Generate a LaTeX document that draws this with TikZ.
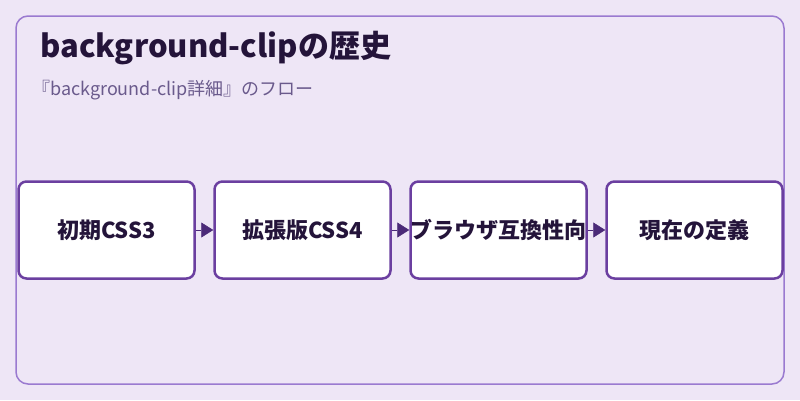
\documentclass[tikz,border=0pt]{standalone}
\usepackage{fontspec}
\setmainfont{Noto Sans CJK JP}
\usetikzlibrary{positioning,arrows.meta}
\definecolor{bgc}{HTML}{EEE6F6}
\definecolor{framec}{HTML}{9A7AD0}
\definecolor{boxc}{HTML}{6B3FA0}
\definecolor{arrc}{HTML}{4B2A78}
\definecolor{textc}{HTML}{24143A}
\definecolor{subc}{HTML}{6A5A8C}
\begin{document}
\begin{tikzpicture}[
    x=1pt, y=-1pt,
    stage/.style={draw=boxc, line width=2.5pt, rounded corners=8pt, fill=white, minimum width=176pt, minimum height=97pt, inner sep=0pt, font=\fontsize{22}{24}\selectfont\bfseries, text=textc},
    arrow/.style={-{Triangle[length=12pt,width=15pt]}, draw=arrc, fill=arrc, line width=0.6pt}
]
    % background and frame
    \fill[bgc] (0,0) rectangle (800,400);
    \draw[framec, line width=1.5pt, rounded corners=12pt] (16,16) rectangle (784,384);
    \useasboundingbox (0,0) rectangle (800,400);

    % title
    \node[anchor=west, text=textc, font=\fontsize{31}{34}\selectfont\bfseries, inner sep=0pt] (title) at (40,48) {background-clipの歴史};
    \node[anchor=west, text=subc, font=\fontsize{18}{21}\selectfont, inner sep=0pt] (sub) at (32,90) {『background-clip詳細』のフロー};

    % stages
    \node[stage] (s1) at (106.5,230) {初期CSS3};
    \node[stage] (s2) at (302.5,230) {拡張版CSS4};
    \node[stage] (s3) at (498.5,230) {ブラウザ互換性向};
    \node[stage] (s4) at (694.5,230) {現在の定義};

    % arrows
    \draw[arrow] (s1) -- (s2);
    \draw[arrow] (s2) -- (s3);
    \draw[arrow] (s3) -- (s4);
\end{tikzpicture}
\end{document}
